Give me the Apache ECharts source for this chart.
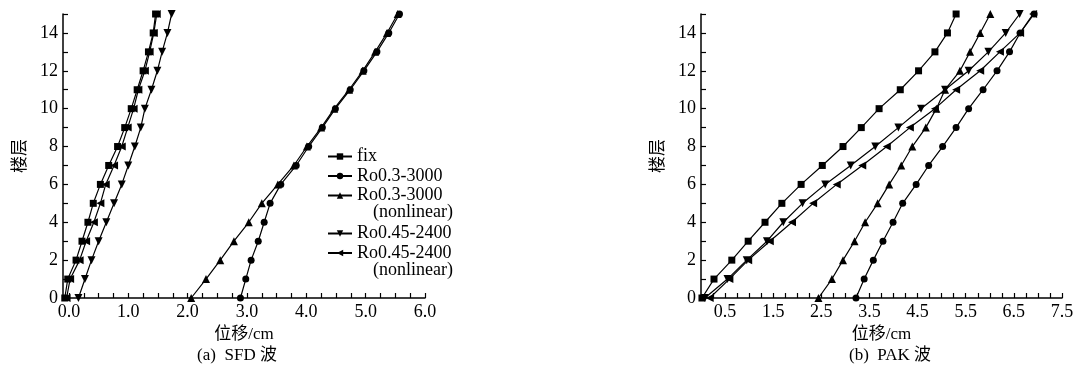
<!DOCTYPE html>
<html>
<head>
<meta charset="utf-8">
<script src="https://cdn.jsdelivr.net/npm/echarts@6/dist/echarts.min.js"></script>
<style>
  html, body { margin: 0; padding: 0; background: #fff; }
  #main { width: 1077px; height: 371px; }
</style>
</head>
<body>
<div id="main"></div>
<script>
var floors = [0, 1, 2, 3, 4, 5, 6, 7, 8, 9, 10, 11, 12, 13, 14, 15];

// (a) SFD 波
var sfdFix = [-0.07, -0.02, 0.12, 0.22, 0.32, 0.41, 0.53, 0.67, 0.82, 0.94, 1.05, 1.15, 1.25, 1.34, 1.42, 1.46];
var sfdRo03 = [2.89, 2.98, 3.07, 3.19, 3.29, 3.39, 3.57, 3.83, 4.04, 4.27, 4.49, 4.74, 4.97, 5.19, 5.39, 5.57];
var sfdRo03NL = [2.06, 2.31, 2.55, 2.78, 3.03, 3.25, 3.52, 3.79, 4.01, 4.25, 4.47, 4.72, 4.95, 5.16, 5.36, 5.54];
var sfdRo045 = [0.16, 0.27, 0.38, 0.50, 0.63, 0.76, 0.89, 1.00, 1.11, 1.21, 1.28, 1.39, 1.49, 1.57, 1.66, 1.73];
var sfdRo045NL = [-0.04, 0.02, 0.18, 0.29, 0.42, 0.53, 0.62, 0.76, 0.89, 0.99, 1.09, 1.17, 1.28, 1.36, 1.43, 1.48];

// (b) PAK 波
var pakFix = [0.02, 0.27, 0.64, 0.98, 1.33, 1.68, 2.08, 2.52, 2.95, 3.33, 3.70, 4.14, 4.52, 4.86, 5.12, 5.30];
var pakRo03 = [3.22, 3.39, 3.58, 3.78, 3.99, 4.19, 4.47, 4.73, 5.02, 5.30, 5.56, 5.86, 6.15, 6.41, 6.63, 6.92];
var pakRo03NL = [2.44, 2.72, 2.95, 3.19, 3.41, 3.67, 3.91, 4.16, 4.39, 4.67, 4.89, 5.07, 5.38, 5.59, 5.80, 6.01];
var pakRo045 = [0.08, 0.55, 0.95, 1.37, 1.71, 2.11, 2.58, 3.11, 3.62, 4.10, 4.57, 5.07, 5.56, 5.97, 6.33, 6.62];
var pakRo045NL = [0.18, 0.59, 0.98, 1.43, 1.89, 2.33, 2.82, 3.35, 3.86, 4.34, 4.86, 5.30, 5.80, 6.21, 6.63, 6.90];

var sfdLabels = [0, 1, 2, 3, 4, 5, 6];
var pakLabels = [0.5, 1.5, 2.5, 3.5, 4.5, 5.5, 6.5, 7.5];
var yLabels = [0, 2, 4, 6, 8, 10, 12, 14];

var names = ['fix', 'Ro0.3-3000', 'Ro0.3-3000 (nonlinear)', 'Ro0.45-2400', 'Ro0.45-2400 (nonlinear)'];
var symbols = ['rect', 'circle', 'triangle', 'triangle', 'triangle'];
var rotates = [0, 0, 0, 180, 90];
var sizes = [7, 7, 8, 8, 8];

function quarterTicks(from, to) {
  var t = [];
  for (var v = from; v <= to + 1e-9; v += 0.25) t.push(+v.toFixed(2));
  return t;
}

var serif = 'Liberation Serif, Times New Roman, serif';
var cjk = 'Liberation Serif, Noto Sans CJK SC, serif';

function makeSeries(lists, idx) {
  return lists.map(function (vals, i) {
    return {
      name: names[i],
      type: 'line',
      xAxisIndex: idx,
      yAxisIndex: idx,
      data: vals.map(function (v, k) { return [v, floors[k]]; }),
      symbol: symbols[i],
      symbolRotate: rotates[i],
      symbolSize: sizes[i],
      showSymbol: true,
      lineStyle: { color: '#000', width: 1.2 },
      itemStyle: { color: '#000' },
      emphasis: { disabled: true },
      animation: false
    };
  });
}

function xAxis(idx, min, max, labels, ticks) {
  return {
    type: 'value', gridIndex: idx, min: min, max: max,
    name: '位移/cm', nameLocation: 'middle', nameGap: 27,
    nameTextStyle: { fontFamily: cjk, fontSize: 17, color: '#000' },
    axisLine: { onZero: false, lineStyle: { color: '#000', width: 1.5 } },
    axisTick: { inside: true, length: 5, customValues: ticks, lineStyle: { color: '#000', width: 1.2 } },
    axisLabel: {
      customValues: labels, margin: 5, color: '#000', fontFamily: serif, fontSize: 18,
      formatter: function (v) { return v.toFixed(1); }
    },
    splitLine: { show: false }
  };
}

function yAxis(idx) {
  return {
    type: 'value', gridIndex: idx, min: 0, max: 15,
    name: '楼层', nameLocation: 'middle', nameGap: 34, nameRotate: 90,
    nameTextStyle: { fontFamily: cjk, fontSize: 17, color: '#000' },
    axisLine: { onZero: false, lineStyle: { color: '#000', width: 1.5 } },
    axisTick: { inside: true, length: 5, customValues: floors, lineStyle: { color: '#000', width: 1.2 } },
    axisLabel: { customValues: yLabels, margin: 5, color: '#000', fontFamily: serif, fontSize: 18 },
    splitLine: { show: false }
  };
}

var legendText = { fontFamily: serif, fontSize: 18, color: '#000', lineHeight: 19 };

var chart = echarts.init(document.getElementById('main'));
chart.setOption({
  backgroundColor: '#fff',
  animation: false,
  grid: [
    { left: 63, top: 14, width: 362, height: 284 },
    { left: 701, top: 14, width: 361, height: 284 }
  ],
  title: [
    { text: '(a)  SFD 波', left: 232, top: 342, textAlign: 'center',
      textStyle: { fontFamily: cjk, fontSize: 17, fontWeight: 'normal', color: '#000' } },
    { text: '(b)  PAK 波', left: 885, top: 342, textAlign: 'center',
      textStyle: { fontFamily: cjk, fontSize: 17, fontWeight: 'normal', color: '#000' } }
  ],
  legend: [
    { data: names.slice(0, 3), orient: 'vertical', left: 322, top: 142, itemWidth: 24, itemHeight: 8,
      itemGap: 0.5, textStyle: legendText, selectedMode: false,
      formatter: function (n) { return n.replace(' (nonlinear)', ''); } },
    { data: names.slice(3), orient: 'vertical', left: 322, top: 219, itemWidth: 24, itemHeight: 8,
      itemGap: 0.5, textStyle: legendText, selectedMode: false,
      formatter: function (n) { return n.replace(' (nonlinear)', ''); } }
  ],
  graphic: [
    { type: 'text', left: 373, top: 203, style: { text: '(nonlinear)', font: '18px Liberation Serif', fill: '#000' } },
    { type: 'text', left: 373, top: 261, style: { text: '(nonlinear)', font: '18px Liberation Serif', fill: '#000' } }
  ],
  xAxis: [
    xAxis(0, -0.1, 6, sfdLabels, quarterTicks(0, 6)),
    xAxis(1, 0, 7.5, pakLabels, quarterTicks(0.25, 7.5))
  ],
  yAxis: [yAxis(0), yAxis(1)],
  series: makeSeries([sfdFix, sfdRo03, sfdRo03NL, sfdRo045, sfdRo045NL], 0)
    .concat(makeSeries([pakFix, pakRo03, pakRo03NL, pakRo045, pakRo045NL], 1))
});
</script>
</body>
</html>
